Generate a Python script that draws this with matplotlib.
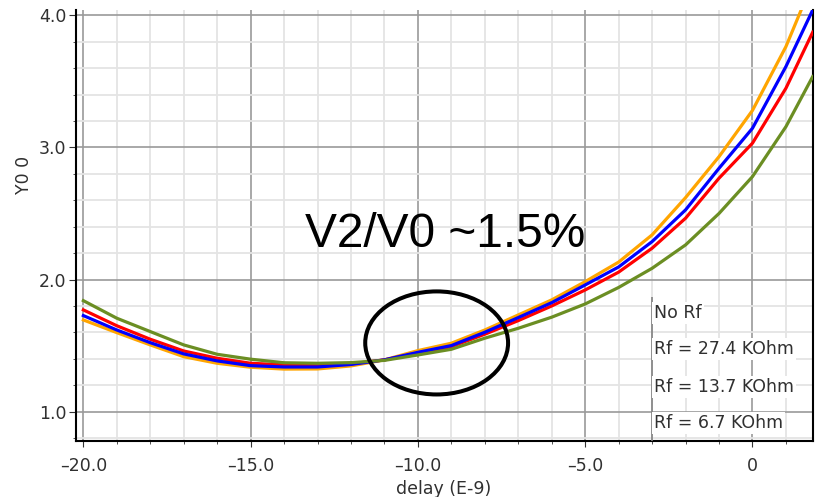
import matplotlib
matplotlib.use("Agg")
import matplotlib.pyplot as plt
from matplotlib.patches import Ellipse
from matplotlib.ticker import MultipleLocator

# ---- data ----
delay = [-20, -19, -18, -17, -16, -15, -14, -13, -12, -11, -10, -9, -8, -7, -6, -5, -4, -3, -2, -1, 0, 1, 1.8]
y_orange = [1.694, 1.598, 1.505, 1.416, 1.366, 1.336, 1.322, 1.323, 1.346, 1.392, 1.462, 1.518, 1.618, 1.732,
            1.846, 1.984, 2.132, 2.338, 2.620, 2.930, 3.280, 3.763, 4.250]
y_blue = [1.727, 1.618, 1.522, 1.437, 1.384, 1.348, 1.338, 1.338, 1.357, 1.392, 1.449, 1.500, 1.601, 1.712,
          1.825, 1.959, 2.095, 2.287, 2.527, 2.842, 3.145, 3.612, 4.040]
y_red = [1.770, 1.650, 1.548, 1.459, 1.404, 1.366, 1.354, 1.352, 1.362, 1.392, 1.442, 1.492, 1.586, 1.689,
         1.800, 1.921, 2.056, 2.237, 2.464, 2.767, 3.032, 3.448, 3.872]
y_green = [1.840, 1.707, 1.606, 1.505, 1.434, 1.397, 1.370, 1.366, 1.371, 1.388, 1.429, 1.472, 1.556, 1.631,
           1.715, 1.815, 1.940, 2.085, 2.262, 2.500, 2.779, 3.157, 3.536]

legend_labels = ["No Rf", "Rf = 27.4 KOhm", "Rf = 13.7 KOhm", "Rf = 6.7 KOhm"]
x_ticks = [-20, -15, -10, -5, 0]
x_tick_labels = ["\u201320.0", "\u201315.0", "\u201310.0", "\u20135.0", "0"]
y_ticks = [1.0, 2.0, 3.0, 4.0]
y_tick_labels = ["1.0", "2.0", "3.0", "4.0"]
x_label = "delay (E-9)"
y_label = "Y0 0"
note = "V2/V0 ~1.5%"

W, H = 827, 497
plt.rcParams['font.family'] = ['DejaVu Sans']

def fx(p):
    return p / W

def fy(p):
    return 1 - p / H

fig = plt.figure(figsize=(W / 100, H / 100), dpi=100)
left, right, top, bottom = 76, 812.7, 10, 440.7
ax = fig.add_axes([fx(left), fy(bottom), (right - left) / W, (bottom - top) / H])

txt_col = '#303030'
ax.plot(delay, y_orange, color='#ffa500', lw=2.3, zorder=3)
ax.plot(delay, y_red, color='#ff0000', lw=2.3, zorder=3)
ax.plot(delay, y_blue, color='#0000ff', lw=2.3, zorder=3)
ax.plot(delay, y_green, color='#6b8e23', lw=2.3, zorder=3)

ax.set_xlim(-20.22, 1.8)
ax.set_ylim(0.78, 4.04)
ax.set_xticks(x_ticks, x_tick_labels)
ax.set_yticks(y_ticks, y_tick_labels)
ax.xaxis.set_minor_locator(MultipleLocator(1))
ax.yaxis.set_minor_locator(MultipleLocator(0.2))
ax.set_axisbelow(True)
ax.grid(which='minor', color='#e4e4e4', lw=1.3)
ax.grid(which='major', color='#9a9a9a', lw=1.2)

for s in ['left', 'bottom', 'right']:
    ax.spines[s].set_color('black')
    ax.spines[s].set_linewidth(1.5)
ax.spines['top'].set_visible(False)

ax.tick_params(axis='both', which='both', direction='out', color='#333333',
               labelcolor=txt_col, labelsize=12.5)
ax.tick_params(axis='y', which='major', length=5, pad=2)
ax.tick_params(axis='y', which='minor', length=2.5)
ax.tick_params(axis='x', which='major', length=4, pad=8)
ax.tick_params(axis='x', which='minor', length=2.5)

fig.text(fx(444), fy(489), x_label, ha='center', va='center', fontsize=12.5, color=txt_col)
fig.text(fx(24), fy(175), y_label, ha='center', va='center', rotation=90, fontsize=12.5, color=txt_col)

# annotation
fig.text(fx(445), fy(246.7), note, ha='center', va='baseline', fontsize=34.5,
         family=['Liberation Sans'], color='black')
ax.add_patch(Ellipse((-9.44, 1.52), 4.27, 0.78, fill=False, ec='black', lw=2.9, zorder=5))

# legend (text only)
ax.vlines(-3, 0.78, 1.87, color='#808080', lw=1.2, zorder=4)
for lab, py in zip(legend_labels, [313, 349, 387, 423]):
    fig.text(fx(654), fy(py), lab, ha='left', va='center', fontsize=12.5, color=txt_col,
             bbox=dict(facecolor='white', edgecolor='none', pad=1.5), zorder=6)

fig.savefig('out.png', dpi=100)
